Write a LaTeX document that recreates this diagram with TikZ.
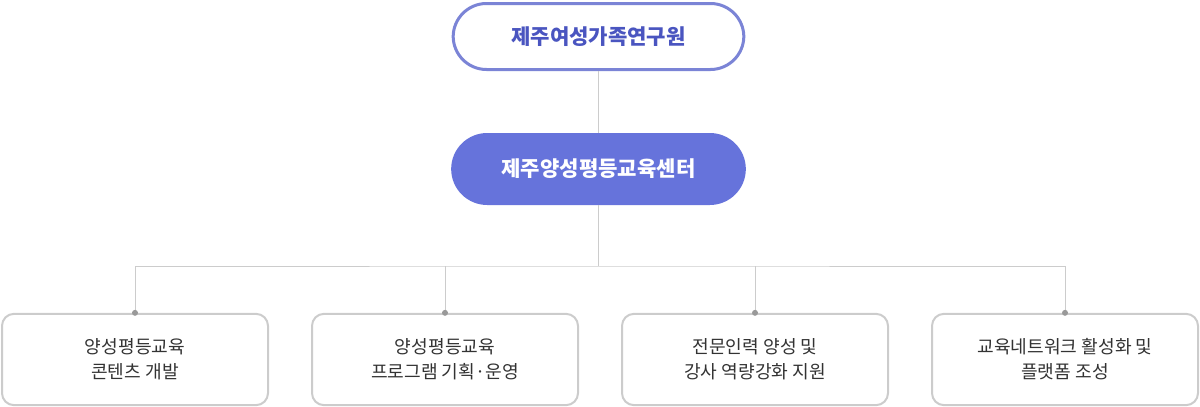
\documentclass[tikz,border=0pt]{standalone}
\usepackage{fontspec}
\setmainfont{Noto Sans CJK KR}
\usetikzlibrary{positioning}
\definecolor{instline}{HTML}{7B84D6}
\definecolor{insttext}{HTML}{4A55C0}
\definecolor{centerfill}{HTML}{6673DB}
\definecolor{boxline}{HTML}{CCCCCC}
\definecolor{dotgray}{HTML}{999999}
\definecolor{bodytext}{HTML}{333333}
\tikzset{
  inst/.style={draw=instline, line width=2.25pt, fill=white, rounded corners=25pt,
    minimum width=218pt, minimum height=49.5pt, text=insttext,
    font=\fontsize{15.8}{18}\selectfont\bfseries},
  center/.style={fill=centerfill, rounded corners=27pt, minimum width=221pt,
    minimum height=54pt, text=white, font=\fontsize{15.8}{18}\selectfont\bfseries},
  task/.style={draw=boxline, line width=1.5pt, fill=white, rounded corners=9pt,
    minimum width=199.5pt, minimum height=68.5pt, text=bodytext, align=center,
    font=\fontsize{13.6}{18.75}\selectfont},
  wire/.style={draw=boxline, line width=0.75pt}
}

\begin{document}
\begin{tikzpicture}[x=0.75pt,y=0.75pt,yscale=-1,xscale=1]
\useasboundingbox (0,0) rectangle (1200,407);

% Text Node
\node [inst] (inst) at (598.5,36.5) {제주여성가족연구원};
% Text Node
\node [center] (cen) at (598.5,169) {제주양성평등교육센터};
% Text Node
\node [task] (t1) at (135,359.5) {양성평등교육\\콘텐츠 개발};
% Text Node
\node [task] (t2) at (445,359.5) {양성평등교육\\프로그램 기획·운영};
% Text Node
\node [task] (t3) at (755,359.5) {전문인력 양성 및\\강사 역량강화 지원};
% Text Node
\node [task] (t4) at (1065,359.5) {교육네트워크 활성화 및\\플랫폼 조성};

\coordinate (bus) at (598.5,266);

%Straight Lines
\draw [wire] (inst.south) -- (cen.north);
\draw [wire] (cen.south) -- (bus);
\draw [wire] (t1.north) |- (bus) -| (t4.north);
\draw [wire] (t2.north) -- (t2.north |- bus);
\draw [wire] (t3.north) -- (t3.north |- bus);

% Dots
\foreach \t in {t1,t2,t3,t4}
  \fill [dotgray] (\t.north) circle (3);

\end{tikzpicture}
\end{document}
